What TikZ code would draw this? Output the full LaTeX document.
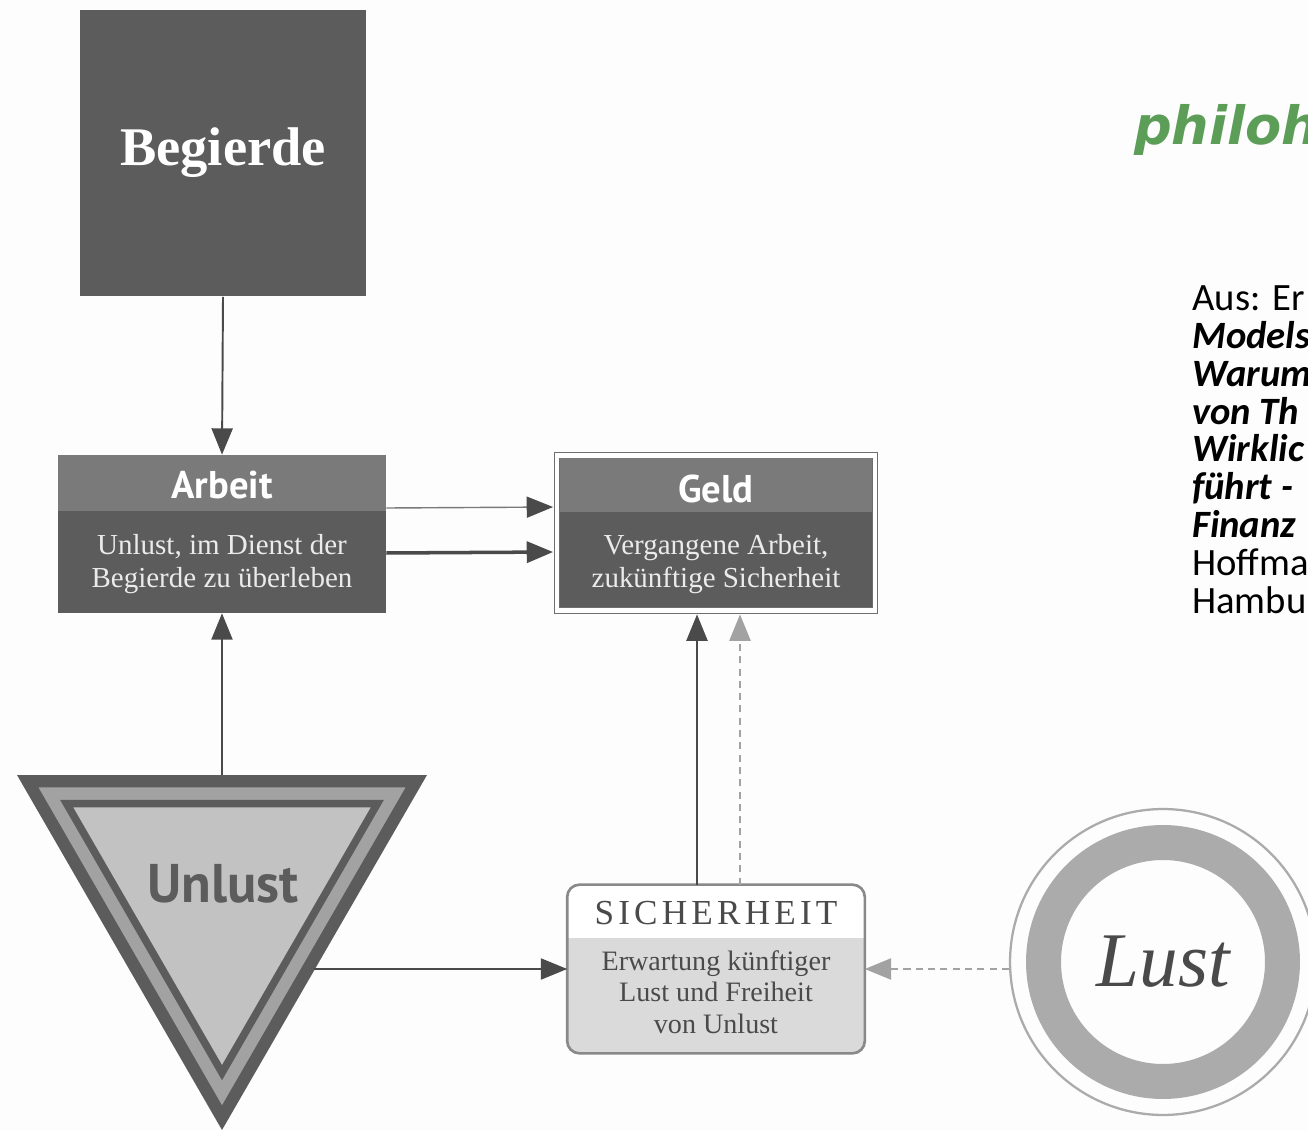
\documentclass[tikz,border=0pt]{standalone}
\usepackage{fontspec}
\setmainfont{Liberation Serif}
\newfontfamily\headfont{PT Sans}
\newfontfamily\notefont{Carlito}
\newfontfamily\logofont{DejaVu Sans}
\usetikzlibrary{arrows.meta,positioning,calc}
\definecolor{Ink}{HTML}{4A4A4A}
\definecolor{Dark}{HTML}{5C5C5C}
\definecolor{Band}{HTML}{7A7A7A}
\definecolor{Mid}{HTML}{A2A2A2}
\definecolor{Pale}{HTML}{C2C2C2}
\definecolor{Mist}{HTML}{DADADA}
\definecolor{Ring}{HTML}{ABABAB}
\definecolor{Leaf}{HTML}{5C9E58}
\definecolor{Paper}{HTML}{FDFDFD}

\begin{document}
\begin{tikzpicture}[x=0.02cm,y=-0.02cm,
      darkbox/.style={draw=none,fill=Dark,inner sep=0pt},
      head/.style={font=\headfont\bfseries\fontsize{22}{24}\selectfont,text=white},
      sub/.style={font=\fontsize{16.5}{19}\selectfont,text=white!92!black,align=center},
      conn/.style={-{Triangle[length=15pt,width=12pt,color=Ink]},line width=1.1pt,draw=Ink},
      hint/.style={-{Triangle[length=15pt,width=12pt,color=Mid]},line width=1.2pt,draw=Mid,
        dash pattern=on 4pt off 3pt}
    ]
      \useasboundingbox (0,0) rectangle (1308,1131);
      \clip (0,0) rectangle (1308,1131);
      \fill[Paper] (0,0) rectangle (1308,1131);

      % Begierde
      \node[darkbox,minimum width=5.74cm,minimum height=5.74cm,text=white,
        font=\bfseries\fontsize{31}{33}\selectfont] (begierde) at (223,153) {Begierde};

      % Arbeit
      \node[darkbox,minimum width=6.56cm,minimum height=3.16cm] (arbeit) at (222,534) {};
      \fill[Band] (arbeit.north west) rectangle ($(arbeit.north east)+(0,56)$);
      \node[head] (arbeitHead) at (222,485) {Arbeit};
      \node[sub] (arbeitSub) at (222,564) {Unlust, im Dienst der\\Begierde zu überleben};

      % Geld
      \node[darkbox,draw=Ink!80,line width=0.5pt,double=white,double distance=2.5pt,
        minimum width=6.36cm,minimum height=3.1cm] (geld) at (716,533) {};
      \fill[Band] ($(geld.north west)+(3,3)$) rectangle ($(geld.north east)+(-3,57)$);
      \node[head] (geldHead) at (716,489) {Geld};
      \node[sub] (geldSub) at (716,564) {Vergangene Arbeit,\\zukünftige Sicherheit};

      % Unlust
      \begin{scope}[shift={(222,893)}]
        \fill[Dark] (-205,-118) -- (205,-118) -- (0,237) -- cycle;
        \fill[Mid,scale=0.895] (-205,-118) -- (205,-118) -- (0,237) -- cycle;
        \fill[Dark,scale=0.79] (-205,-118) -- (205,-118) -- (0,237) -- cycle;
        \fill[Pale,scale=0.725] (-205,-118) -- (205,-118) -- (0,237) -- cycle;
      \end{scope}
      \coordinate (unlustTop) at (222,775);
      \coordinate (unlustSide) at (314,969);
      \node[font=\headfont\bfseries\fontsize{31}{33}\selectfont,text=Dark] (unlust) at (223,884) {Unlust};

      % Sicherheit
      \node[minimum width=5.94cm,minimum height=3.36cm] (sich) at (716,969) {};
      \begin{scope}
        \clip[rounded corners=7pt] (sich.north west) rectangle (sich.south east);
        \fill[white] (sich.north west) rectangle (sich.south east);
        \fill[Mist] ($(sich.north west)+(0,53)$) rectangle (sich.south east);
      \end{scope}
      \draw[Ring!80!black,line width=1.5pt,rounded corners=7pt] (sich.north west) rectangle (sich.south east);
      \node[font=\fontsize{20}{21}\selectfont\addfontfeature{LetterSpace=12},text=Ink]
        (sichHead) at (716,913) {SICHERHEIT};
      \node[font=\fontsize{16}{18}\selectfont,text=Ink,align=center] (sichSub) at (716,992)
        {Erwartung künftiger\\Lust und Freiheit\\von Unlust};

      % Lust
      \node[circle,draw=Ring,line width=1.3pt,minimum size=6.12cm,inner sep=0pt,text=Ink,
        font=\itshape\fontsize{44}{46}\selectfont] (lust) at (1163,962) {Lust};
      \draw[Ring,line width=0.7cm] (lust.center) circle[radius=2.39cm];

      % connectors
      \draw[conn] (begierde.south) -- (arbeit.north);
      \draw[conn] (unlustTop) -- (arbeit.south);
      \draw[conn,line width=0.8pt,draw=Band,shorten >=2pt] ([yshift=0.52cm]arbeit.east) -- ([yshift=0.52cm]geld.west);
      \draw[conn,line width=2pt,shorten >=2pt] ([yshift=-0.38cm]arbeit.east) -- ([yshift=-0.38cm]geld.west);
      \draw[conn,shorten >=2pt] ([xshift=-0.38cm]sich.north) -- ([xshift=-0.38cm]geld.south);
      \draw[hint,shorten >=2pt] ([xshift=0.48cm]sich.north) -- ([xshift=0.48cm]geld.south);
      \draw[conn] (unlustSide) -- (sich.west);
      \draw[hint] (lust.west |- sich.east) -- (sich.east);

      % source note
      \node[font=\logofont\bfseries\itshape\fontsize{30}{32}\selectfont,text=Leaf,anchor=base west]
        (logo) at (1128,145) {philoh};
      \node[font=\notefont\fontsize{22}{21.6}\selectfont,align=left,anchor=north west,inner sep=0pt]
        (source) at (1192,285) {Aus: Er\\\textbf{\textit{Models}}\\\textbf{\textit{Warum}}\\
        \textbf{\textit{von Th}}\\\textbf{\textit{Wirklic}}\\\textbf{\textit{führt -}}\\
        \textbf{\textit{Finanz}}\\Hoffma\\Hambu};
    \end{tikzpicture}
\end{document}
